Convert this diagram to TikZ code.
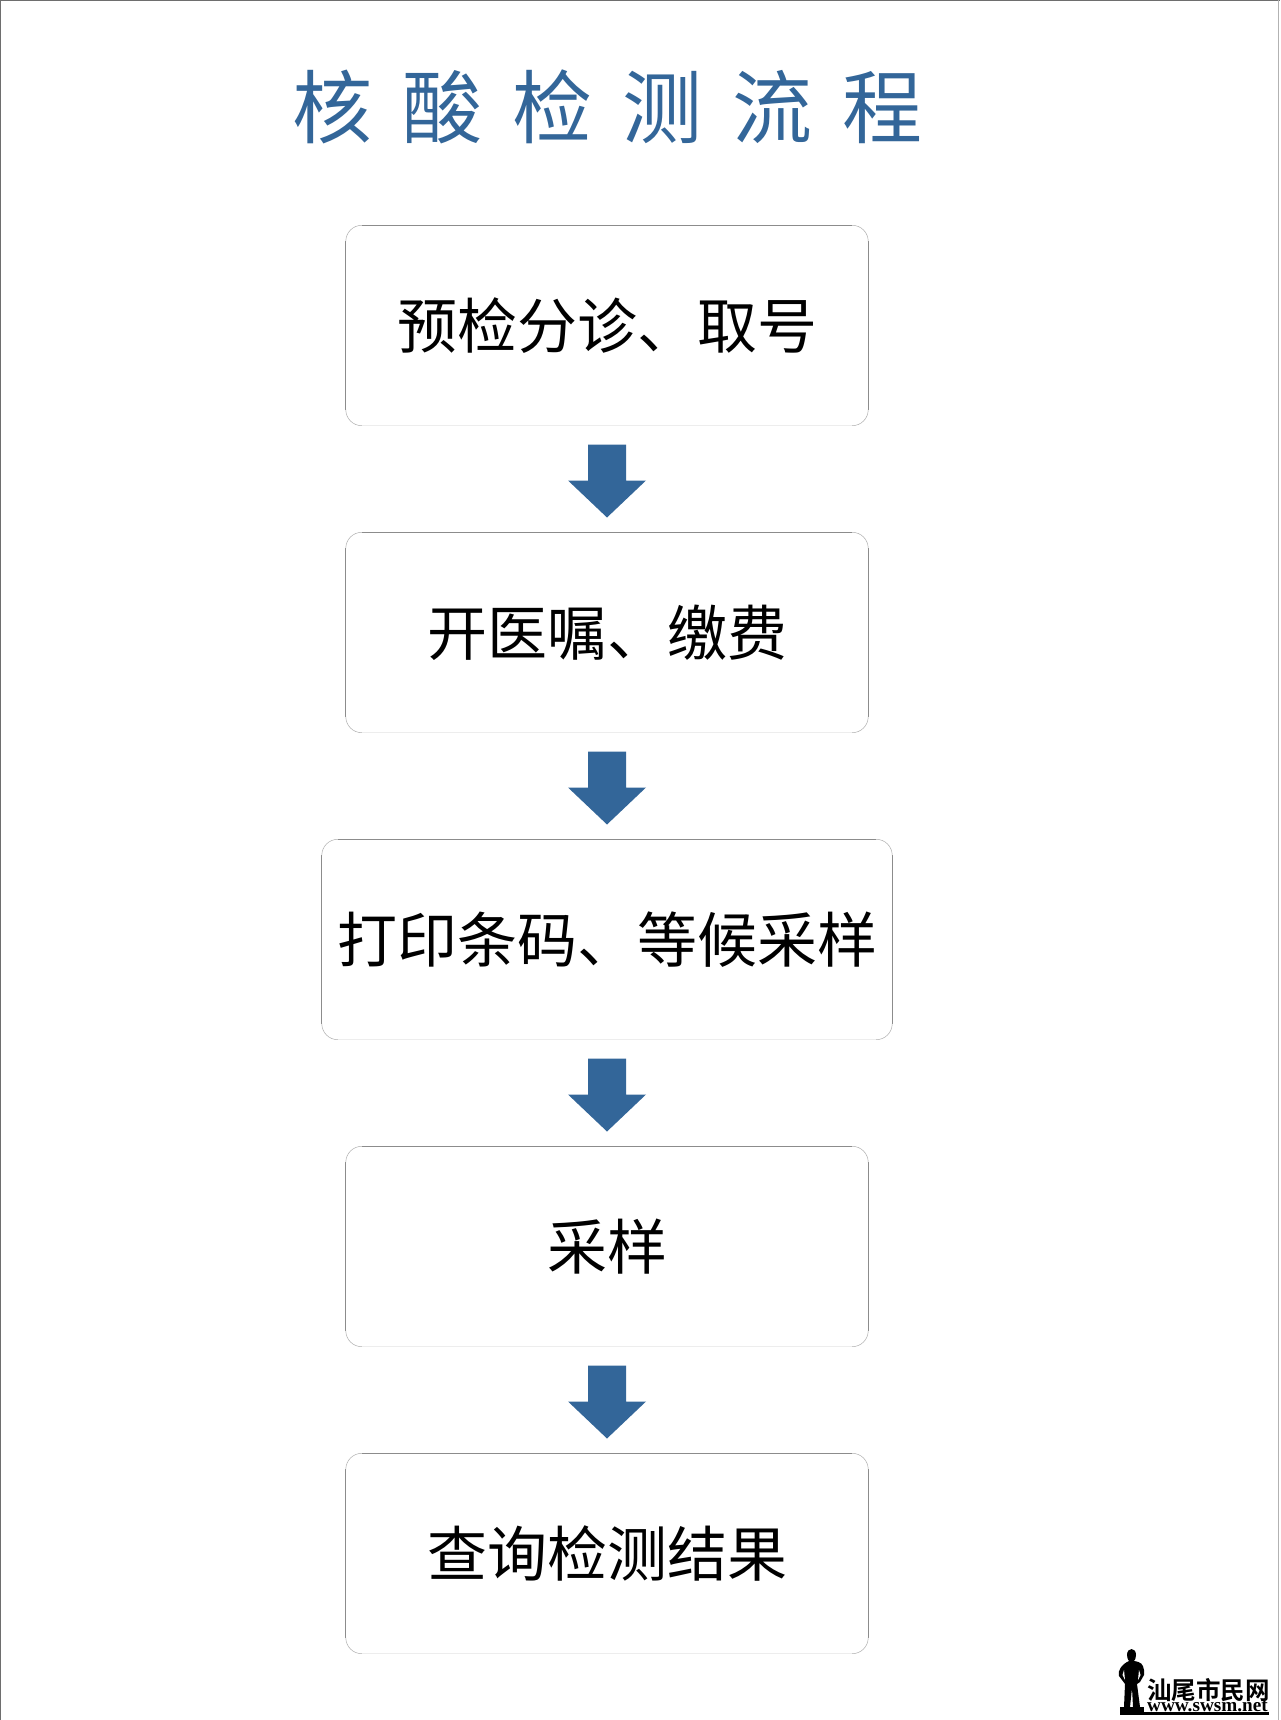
\documentclass[tikz,border=0pt]{standalone}
\usepackage{fontspec}
\setmainfont{Liberation Serif}
\newfontfamily\cjk{Noto Sans CJK SC}
\newfontfamily\cjkb{Noto Sans CJK SC Bold}
\usetikzlibrary{calc}
\definecolor{flowblue}{HTML}{336699}
\definecolor{boxline}{HTML}{8C8C8C}
\definecolor{pageline}{HTML}{6E6E6E}
\tikzset{
  flowbox/.style={rectangle,rounded corners=16pt,fill=white,minimum height=200pt,inner sep=0pt,font=\cjk\fontsize{60}{66}\selectfont,text=black},
  normalbox/.style={flowbox,minimum width=522pt},
  widebox/.style={flowbox,minimum width=570pt},
  boxedge/.style={draw=boxline,line width=0.9pt},
  boxcorner/.style={draw=boxline!70,line width=0.5pt,rounded corners=16pt},
  boxbottom/.style={draw=black!7,line width=0.7pt},
  blockarrow/.style={fill=flowblue,draw=none},
}
\newcommand{\flowedges}[1]{%
  \draw[boxedge] ($(#1.south west)+(0,-16)$) -- ($(#1.north west)+(0,16)$);
  \draw[boxedge] ($(#1.north west)+(16,0)$) -- ($(#1.north east)+(-16,0)$);
  \draw[boxedge] ($(#1.north east)+(0,16)$) -- ($(#1.south east)+(0,-16)$);
  \draw[boxbottom] ($(#1.south west)+(16,0)$) -- ($(#1.south east)+(-16,0)$);
  \draw[boxcorner] ($(#1.south west)+(0,-16)$) -- (#1.south west) -- ($(#1.south west)+(16,0)$);
  \draw[boxcorner] ($(#1.north west)+(0,16)$) -- (#1.north west) -- ($(#1.north west)+(16,0)$);
  \draw[boxcorner] ($(#1.north east)+(0,16)$) -- (#1.north east) -- ($(#1.north east)+(-16,0)$);
  \draw[boxcorner] ($(#1.south east)+(0,-16)$) -- (#1.south east) -- ($(#1.south east)+(-16,0)$);
}
\newcommand{\flowarrow}[1]{%
  \fill[blockarrow] ($(#1)+(-19,-36.5)$) -- ($(#1)+(19,-36.5)$) -- ($(#1)+(19,-0.5)$) -- ($(#1)+(39,-0.5)$) -- ($(#1)+(0,36.5)$) -- ($(#1)+(-39,-0.5)$) -- ($(#1)+(-19,-0.5)$) -- cycle;
}
\begin{document}
\begin{tikzpicture}[x=1pt,y=-1pt]
\useasboundingbox (0,0) rectangle (1280,1720);
\fill[white] (0,0) rectangle (1280,1720);
\draw[pageline,line width=1.5pt] (0.7,1720) -- (0.7,0.7) -- (1280,0.7);
\draw[gray!60,line width=1pt] (1278.5,0) -- (1278.5,1720);
\node[text=flowblue,font=\cjk\fontsize{80}{86}\selectfont,inner sep=0pt] (title) at (607,107) {核\hspace{30pt}酸\hspace{30pt}检\hspace{30pt}测\hspace{30pt}流\hspace{30pt}程};
\node[normalbox] (b1) at (607,325.5) {预检分诊、取号};
\node[normalbox] (b2) at (607,632.5) {开医嘱、缴费};
\node[widebox] (b3) at (607,939.5) {打印条码、等候采样};
\node[normalbox] (b4) at (607,1246.5) {采样};
\node[normalbox] (b5) at (607,1553.5) {查询检测结果};
\flowedges{b1}\flowedges{b2}\flowedges{b3}\flowedges{b4}\flowedges{b5}
\coordinate (a1) at (607,481);
\coordinate (a2) at (607,788);
\coordinate (a3) at (607,1095);
\coordinate (a4) at (607,1402);
\flowarrow{a1}\flowarrow{a2}\flowarrow{a3}\flowarrow{a4}
% logo
\fill[black] (1120,1712) rectangle (1269,1715);
\fill[black] (1120,1707) rectangle (1144,1712);
\fill[black] (1127,1655)
  .. controls (1127,1647) and (1136,1647) .. (1136,1655)
  .. controls (1136,1658) and (1135,1660) .. (1134,1661)
  .. controls (1141,1662) and (1143,1664) .. (1144,1670)
  -- (1144,1675) -- (1140,1682) -- (1137,1684) -- (1140,1707) -- (1133,1707) -- (1132,1688)
  -- (1130,1707) -- (1124,1707) -- (1125,1684) -- (1119,1676)
  .. controls (1117,1671) and (1122,1664) .. (1129,1661)
  .. controls (1128,1660) and (1127,1658) .. (1127,1655) -- cycle;
\fill[white] (1124,1670) -- (1122.5,1675) -- (1125,1680) -- cycle;
\fill[white] (1139,1670) -- (1140.5,1675) -- (1138,1680) -- cycle;
\node[anchor=base west,inner sep=0pt,text height=20pt,text depth=0pt,font=\cjkb\fontsize{24.5}{26}\selectfont,text=black] (logocn) at (1147,1699) {汕尾市民网};
\node[anchor=base west,inner sep=0pt,text height=9pt,text depth=0pt,font=\bfseries\fontsize{19.2}{20}\selectfont,text=black] (logourl) at (1147,1711.5) {www.swsm.net};
\end{tikzpicture}
\end{document}
